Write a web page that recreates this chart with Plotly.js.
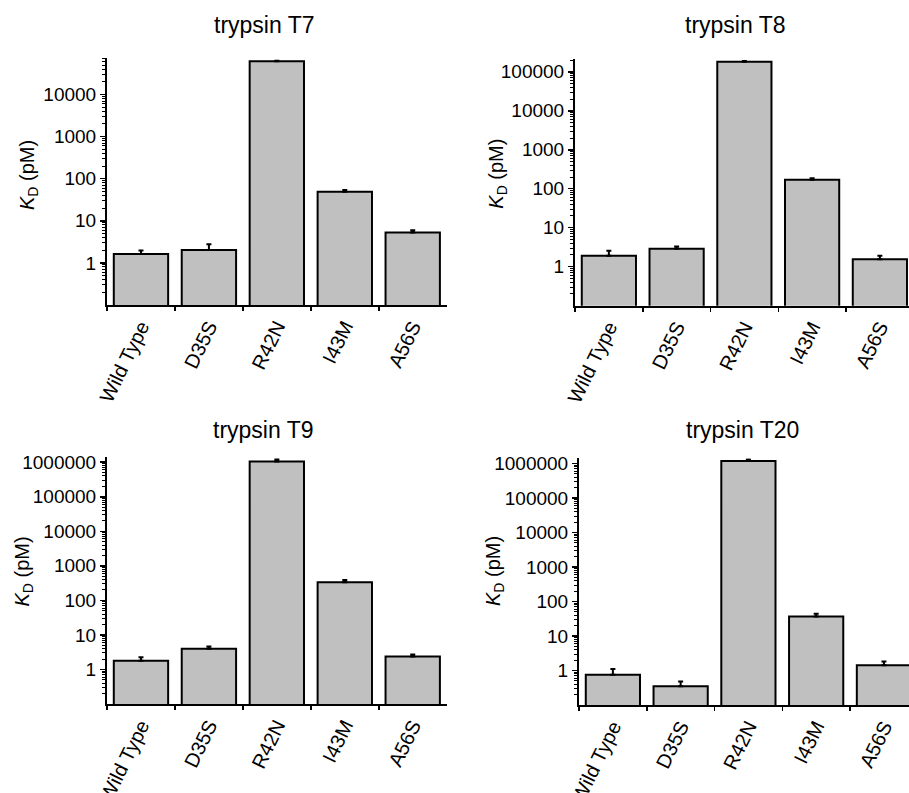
<!DOCTYPE html>
<html>
<head>
<meta charset="utf-8">
<script src="https://cdn.plot.ly/plotly-3.0.1.min.js"></script>
<style>html,body{margin:0;padding:0;background:#fff;}#chart{width:909px;height:793px;}</style>
</head>
<body>
<div id="chart"></div>
<script>
// ---- data ----
const categories = ['Wild Type', 'D35S', 'R42N', 'I43M', 'A56S'];

const panelTitles = ['trypsin T7', 'trypsin T8', 'trypsin T9', 'trypsin T20'];

const kdT7  = [1.63, 2.03, 62000, 49, 5.3];
const errT7 = [0.33, 0.73, 1500, 4.7, 0.7];

const kdT8  = [1.91, 2.9, 180000, 170, 1.55];
const errT8 = [0.66, 0.4, 8000, 17, 0.36];

const kdT9  = [1.79, 4.0, 1050000, 335, 2.38];
const errT9 = [0.48, 0.65, 150000, 55, 0.34];

const kdT20  = [0.75, 0.35, 1170000, 36.5, 1.43];
const errT20 = [0.35, 0.13, 130000, 7.5, 0.39];

const ticksT7  = [1, 10, 100, 1000, 10000];
const ticksT8  = [1, 10, 100, 1000, 10000, 100000];
const ticksT9  = [1, 10, 100, 1000, 10000, 100000, 1000000];
const ticksT20 = [1, 10, 100, 1000, 10000, 100000, 1000000];

// ---- layout helpers ----
const W = 909, H = 793;
const FONT = 'Liberation Sans, Arial, sans-serif';
const px = v => v / W;
const py = v => 1 - v / H;

const series = [kdT7, kdT8, kdT9, kdT20];
const errs = [errT7, errT8, errT9, errT20];
const ticks = [ticksT7, ticksT8, ticksT9, ticksT20];

// pixel geometry of each panel: [left, right, top, bottom], y log range, x range
const geo = [
  {l: 107, r: 446.7, t: 58.3, b: 305, yr: [-1, 4.86], xr: [-0.5, 4.5]},
  {l: 575, r: 909,   t: 59.3, b: 305.7, yr: [-1, 5.32], xr: [-0.5, 4.43]},
  {l: 107, r: 446.7, t: 456.7, b: 704, yr: [-1, 6.16], xr: [-0.5, 4.5]},
  {l: 579, r: 909,   t: 458.3, b: 705, yr: [-1, 6.15], xr: [-0.5, 4.37]}
];
const titlePos = [[264, 25], [735, 25], [263, 430], [742, 430]];
const ylabPos = [[28, 175], [497.7, 174], [22.5, 572], [494, 571]];

function minorVals(maxExp) {
  const out = [];
  for (let e = -1; e <= maxExp; e++) {
    for (let k = 2; k <= 9; k++) out.push(k * Math.pow(10, e));
  }
  return out;
}

const data = [];
const layout = {
  width: W, height: H,
  margin: {l: 0, r: 0, t: 0, b: 0},
  paper_bgcolor: '#fff', plot_bgcolor: 'rgba(0,0,0,0)',
  showlegend: false,
  bargap: 0.2,
  font: {family: FONT, color: '#000', size: 19},
  annotations: []
};

for (let i = 0; i < 4; i++) {
  const n = i === 0 ? '' : String(i + 1);
  data.push({
    type: 'bar',
    x: categories,
    y: series[i],
    xaxis: 'x' + n, yaxis: 'y' + n,
    marker: {color: '#c0c0c0', line: {color: '#000', width: 2}},
    error_y: {type: 'data', symmetric: false, array: errs[i],
              arrayminus: errs[i].map(() => 0),
              color: '#000', thickness: 2, width: 2.5},
    hoverinfo: 'x+y'
  });
  const g = geo[i];
  layout['xaxis' + n] = {
    domain: [px(g.l), px(g.r)],
    anchor: 'y' + n,
    type: 'category',
    range: g.xr,
    showline: true, linecolor: '#000', linewidth: 2,
    ticks: 'outside', tickson: 'boundaries', ticklen: 4, tickwidth: 1.5, tickcolor: '#000',
    tickangle: -64,
    tickfont: {family: FONT, size: 20, color: '#000'},
    showgrid: false, zeroline: false, fixedrange: true
  };
  const tv = ticks[i];
  layout['yaxis' + n] = {
    domain: [py(g.b), py(g.t)],
    anchor: 'x' + n,
    type: 'log',
    range: g.yr,
    tickmode: 'array',
    tickvals: tv,
    ticktext: tv.map(v => String(v)),
    showline: true, linecolor: '#000', linewidth: 2,
    ticks: 'outside', ticklen: 5, tickwidth: 1.5, tickcolor: '#000',
    minor: {tickmode: 'array', tickvals: minorVals(Math.ceil(g.yr[1])),
            ticks: 'outside', ticklen: 3, tickwidth: 1, tickcolor: '#000', showgrid: false},
    tickfont: {family: FONT, size: 19, color: '#000'},
    showgrid: false, zeroline: false, fixedrange: true
  };
  layout.annotations.push({
    text: panelTitles[i], xref: 'paper', yref: 'paper',
    x: px(titlePos[i][0]), y: py(titlePos[i][1]),
    xanchor: 'center', yanchor: 'middle', showarrow: false,
    font: {family: FONT, size: 23, color: '#000'}
  });
  layout.annotations.push({
    text: '<i>K</i><sub>D</sub> (pM)', xref: 'paper', yref: 'paper',
    x: px(ylabPos[i][0]), y: py(ylabPos[i][1]),
    xanchor: 'center', yanchor: 'middle', textangle: -90, showarrow: false,
    font: {family: FONT, size: 20, color: '#000'}
  });
}

Plotly.newPlot('chart', data, layout, {displayModeBar: false, staticPlot: true});
</script>
</body>
</html>
